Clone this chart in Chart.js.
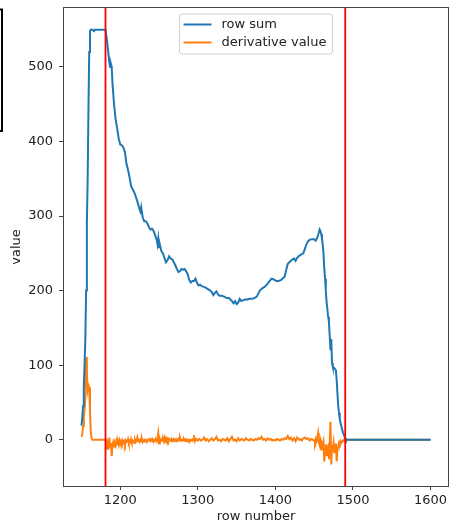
<!DOCTYPE html>
<html>
<head>
<meta charset="utf-8">
<script src="https://cdn.jsdelivr.net/npm/chart.js@4.4.0/dist/chart.umd.min.js"></script>
<style>
html, body { margin: 0; padding: 0; background: #fff; }
#wrap { width: 449px; height: 523px; }
</style>
</head>
<body>
<div id="wrap"><canvas id="row_chart" width="449" height="523"></canvas></div>
<script>
// row sum curve (row number -> sum)
var sum_rows = [
    1150, 1151, 1152, 1153, 1154, 1155, 1156, 1157, 1158, 1159, 1160, 1161, 1162, 1164, 1166, 1167, 1170, 1175, 1181,
    1183, 1185, 1186, 1187, 1188, 1189, 1190, 1192, 1194, 1196, 1198, 1200, 1202, 1204, 1206, 1208, 1210, 1212, 1214,
    1216, 1218, 1220, 1222, 1224, 1226, 1227, 1229, 1231, 1233, 1235, 1237, 1239, 1241, 1243, 1245, 1247, 1248, 1249,
    1250, 1251, 1253, 1255, 1257, 1259, 1261, 1263, 1265, 1267, 1269, 1271, 1273, 1275, 1277, 1279, 1281, 1283, 1285,
    1287, 1289, 1291, 1293, 1295, 1297, 1299, 1301, 1303, 1305, 1308, 1310, 1313, 1316, 1318, 1320, 1322, 1324, 1326,
    1328, 1331, 1334, 1337, 1340, 1342, 1344, 1346, 1348, 1350, 1352, 1354, 1356, 1358, 1361, 1364, 1367, 1370, 1373,
    1376, 1378, 1380, 1383, 1386, 1389, 1392, 1395, 1398, 1401, 1404, 1407, 1410, 1412, 1414, 1416, 1418, 1420, 1422,
    1424, 1426, 1428, 1431, 1434, 1436, 1438, 1440, 1442, 1444, 1447, 1450, 1452, 1454, 1456, 1457, 1458, 1459, 1460,
    1461, 1462, 1463, 1464, 1465, 1466, 1467, 1468, 1469, 1470, 1471, 1472, 1473, 1474, 1476, 1478, 1479, 1480, 1481,
    1482, 1483, 1485, 1487, 1489, 1490, 1491, 1600
];
var sum_values = [
    19, 28, 45, 70, 100, 135, 200, 290, 350, 440, 520, 548, 550, 550, 548, 550, 550, 550, 550,
    535, 515, 505, 500, 504, 500, 478, 450, 430, 418, 404, 396, 395, 392, 386, 370, 362, 352, 340,
    336, 332, 326, 320, 312, 306, 312, 298, 293, 293, 290, 285, 282, 283, 280, 274, 268, 262, 270,
    258, 262, 253, 250, 244, 238, 241, 246, 243, 242, 238, 234, 229, 225, 226, 229, 228, 229, 226,
    222, 214, 211, 213, 213, 216, 210, 207, 208, 206, 205, 204, 202, 200, 198, 194, 197, 199, 195,
    193, 193, 192, 190, 190, 188, 186, 183, 186, 182, 184, 189, 186, 187, 188, 188, 189, 189, 190,
    192, 196, 200, 203, 205, 208, 212, 216, 215, 213, 213, 214, 217, 219, 228, 236, 238, 240, 242,
    243, 240, 244, 247, 249, 250, 256, 262, 266, 268, 269, 269, 267, 271, 278, 282, 280, 276, 270,
    262, 250, 230, 216, 200, 185, 175, 165, 158, 140, 120, 135, 103, 98, 96, 93, 80, 62, 45,
    36, 27, 18, 10, 5, 2, 0, 0
];

// derivative curve (row number -> value)
var deriv_rows = [
    1150, 1151, 1152, 1153, 1154, 1155, 1156, 1157, 1158, 1159, 1160, 1161, 1162, 1163, 1164, 1170, 1181,
    1182, 1183, 1184, 1185, 1186, 1187, 1188, 1189, 1190, 1191, 1192, 1193, 1194, 1195, 1196, 1197, 1198, 1199, 1200,
    1201, 1202, 1203, 1204, 1205, 1206, 1207, 1208, 1209, 1210, 1211, 1212, 1213, 1214, 1215, 1216, 1217, 1218, 1219, 1220,
    1221, 1222, 1223, 1224, 1225, 1226, 1227, 1228, 1229, 1230, 1231, 1232, 1233, 1234, 1235, 1236, 1237, 1238, 1239, 1240,
    1241, 1242, 1243, 1244, 1245, 1246, 1247, 1248, 1249, 1250, 1251, 1252, 1253, 1254, 1255, 1256, 1257, 1258, 1259, 1260,
    1261, 1262, 1263, 1264, 1265, 1266, 1267, 1268, 1269, 1270, 1271, 1272, 1273, 1274, 1275, 1276, 1277, 1278, 1279, 1280,
    1281, 1282, 1283, 1284, 1285, 1286, 1287, 1288, 1289, 1290, 1291, 1292, 1293, 1294, 1295, 1296, 1297, 1298, 1299, 1300,
    1302, 1304, 1306, 1308, 1310, 1312, 1314, 1316, 1318, 1320, 1322, 1324, 1326, 1328, 1330, 1332, 1334, 1336, 1338, 1340,
    1342, 1344, 1346, 1348, 1350, 1352, 1354, 1356, 1358, 1360, 1362, 1364, 1366, 1368, 1370, 1372, 1374, 1376, 1378, 1380,
    1382, 1384, 1386, 1388, 1390, 1392, 1394, 1396, 1398, 1400, 1402, 1404, 1406, 1408, 1410, 1412, 1414, 1416, 1418, 1420,
    1422, 1424, 1426, 1428, 1430, 1432, 1434, 1436, 1438, 1440, 1442, 1444, 1446, 1448,
    1450, 1451, 1452, 1453, 1454, 1455, 1456, 1457, 1458, 1459, 1460, 1461, 1462, 1463, 1464, 1465, 1466, 1467, 1468, 1469,
    1470, 1471, 1472, 1473, 1474, 1475, 1476, 1477, 1478, 1479, 1480, 1481, 1482, 1483, 1484, 1485, 1486, 1487, 1488, 1489,
    1490, 1600
];
var deriv_values = [
    4, 7, 18, 30, 40, 55, 111, 90, 67, 73, 70, 40, 10, 2, 0, 0, 0,
    -5, -12, -4, -7, 3, -10, -4, -22, -6, -3, -9, -5, -8, -2, -6, -3, -7, -1, -5,
    -2, -5, -1, -4, -2, -6, -1, -3, -2, 1, -4, -2, -3, 1, -3, -1, -2, -4, 0, -3,
    -1, 3, -2, -1, -3, 0, -2, 1, -3, -1, -2, 0, -1, -3, 0, -1, -1, 1, -2, -1,
    1, -1, 0, -2, -1, 0, -2, 2, 9, -5, 1, -2, 0, -1, 1, -2, 3, -1, 2, -1,
    1, -3, 1, 0, -1, 1, -2, 0, 1, -1, 0, -2, 0, -1, 1, -1, 3, 0, -1, 0,
    -1, 1, -1, 0, -2, 0, -1, 0, -3, -1, 0, 0, -1, 1, 6, -2, 0, 1, -1, 0,
    1, -1, 0, 3, -1, 1, -2, 0, 2, -1, 1, 4, -1, 0, -2, 1, 0, -1, 2, -2,
    1, 4, -1, 0, -2, 2, -1, 1, 0, -1, 2, 0, -1, 1, 0, -1, 1, 0, 2, 1,
    4, 0, 1, -1, 2, 0, 1, -1, 0, -1, 1, 0, -1, 1, 0, 2, 1, 5, 1, 3,
    -1, 2, -2, 3, 0, 1, -1, 2, 3, 1, 2, -1, 1, 0,
    -1, -4, 1, -2, 3, 9, -3, -7, -2, -13, -5, -8, -3, -29, -14, -6, -22, -10, -8, -26,
    -4, 24, -33, -10, -12, -4, -18, -7, -5, -29, -12, -9, -4, -6, -2, -4, -2, -1, 0, -1,
    0, 0
];

var cut_rows = [1181, 1490];
var x_ticks = [1200, 1300, 1400, 1500, 1600];
var y_ticks = [0, 100, 200, 300, 400, 500];
var series_labels = ["row sum", "derivative value"];
var series_colors = ["#1f77b4", "#ff7f0e"];

var font_family = "'DejaVu Sans', sans-serif";

var to_points = (xs, ys) => xs.map((x, i) => ({ x: x, y: ys[i] }));

// red cut lines, box spines, matplotlib style legend
var frame_plugin = {
    id: "frame",
    afterDatasetsDraw: (chart) => {
        var ctx = chart.ctx;
        var area = chart.chartArea;
        var xs = chart.scales.x;
        ctx.save();

        ctx.strokeStyle = "#ff0000";
        ctx.lineWidth = 1.8;
        cut_rows.forEach((r) => {
            var px = xs.getPixelForValue(r);
            ctx.beginPath();
            ctx.moveTo(px, area.top);
            ctx.lineTo(px, area.bottom);
            ctx.stroke();
        });

        ctx.strokeStyle = "#444";
        ctx.lineWidth = 1;
        ctx.strokeRect(Math.round(area.left) - 0.5, Math.round(area.top) - 0.5,
            Math.round(area.right - area.left) + 1, Math.round(area.bottom - area.top) + 1);

        // legend
        ctx.font = "13px " + font_family;
        var text_w = Math.max(...series_labels.map((t) => ctx.measureText(t).width));
        var box_w = 42 + text_w + 6;
        var box_h = 40;
        var bx = (area.left + area.right) / 2 - box_w / 2;
        var by = area.top + 6;
        ctx.beginPath();
        ctx.roundRect(bx, by, box_w, box_h, 3);
        ctx.fillStyle = "rgba(255,255,255,0.8)";
        ctx.fill();
        ctx.strokeStyle = "#d0d0d0";
        ctx.stroke();
        series_labels.forEach((label, i) => {
            var ly = by + 10.5 + i * 18;
            ctx.strokeStyle = series_colors[i];
            ctx.lineWidth = 2;
            ctx.beginPath();
            ctx.moveTo(bx + 4, ly);
            ctx.lineTo(bx + 32, ly);
            ctx.stroke();
            ctx.fillStyle = "#222";
            ctx.textBaseline = "middle";
            ctx.textAlign = "left";
            ctx.fillText(label, bx + 42, ly);
        });

        // clipped frame left over at the image edge
        ctx.strokeStyle = "#000";
        ctx.lineWidth = 2;
        ctx.strokeRect(-10, 9.5, 12, 121.5);
        ctx.restore();
    }
};

var create_chart = () => {
    var canva = document.getElementById("row_chart");
    var config = {
        type: "line",
        data: {
            datasets: [{
                label: series_labels[0],
                data: to_points(sum_rows, sum_values),
                borderColor: series_colors[0],
                borderWidth: 2,
                pointRadius: 0,
                tension: 0
            }, {
                label: series_labels[1],
                data: to_points(deriv_rows, deriv_values),
                borderColor: series_colors[1],
                borderWidth: 2,
                pointRadius: 0,
                tension: 0
            }]
        },
        options: {
            responsive: false,
            animation: false,
            layout: { padding: { top: 8, right: 1, left: 0, bottom: 0 } },
            plugins: {
                legend: { display: false },
                tooltip: { enabled: false }
            },
            scales: {
                x: {
                    type: "linear",
                    min: 1127.5,
                    max: 1622.5,
                    afterBuildTicks: (scale) => { scale.ticks = x_ticks.map((v) => ({ value: v })); },
                    afterFit: (scale) => {
                        scale.height = 37;
                        scale.paddingLeft = 0;
                        scale.paddingRight = 0;
                    },
                    grid: { drawOnChartArea: false, drawTicks: true, tickLength: 4, color: "#444" },
                    border: { display: false },
                    ticks: {
                        color: "#222", padding: 3, maxRotation: 0,
                        font: { family: font_family, size: 13 },
                        callback: (v) => String(v)
                    },
                    title: { display: true, text: "row number", color: "#222", padding: { top: 0, bottom: -1.5 }, font: { family: font_family, size: 13 } }
                },
                y: {
                    type: "linear",
                    min: -62,
                    max: 579,
                    afterBuildTicks: (scale) => { scale.ticks = y_ticks.map((v) => ({ value: v })); },
                    afterFit: (scale) => {
                        scale.width = 64;
                        scale.paddingTop = 0;
                        scale.paddingBottom = 0;
                    },
                    grid: { drawOnChartArea: false, drawTicks: true, tickLength: 5, color: "#444" },
                    border: { display: false },
                    ticks: {
                        color: "#222", padding: 6,
                        font: { family: font_family, size: 13 },
                        callback: (v) => String(v)
                    },
                    title: { display: true, text: "value", color: "#222", padding: { top: 9, bottom: 0 }, font: { family: font_family, size: 13 } }
                }
            }
        },
        plugins: [frame_plugin]
    };
    return new Chart(canva, config);
};

create_chart();
</script>
</body>
</html>
